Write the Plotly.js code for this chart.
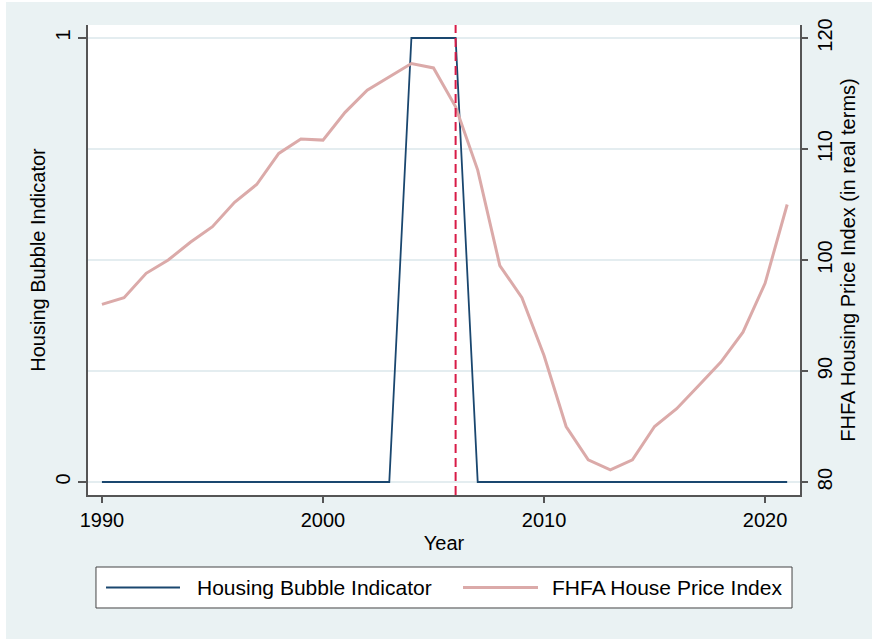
<!DOCTYPE html>
<html>
<head>
<meta charset="utf-8">
<script src="https://cdn.plot.ly/plotly-3.0.1.min.js"></script>
<style>
  html, body { margin: 0; padding: 0; background: #ffffff; }
  #chart { position: absolute; left: 6px; top: 2px; width: 866px; height: 637px; }
</style>
</head>
<body>
<div id="chart"></div>
<script>
// ---- Data ----
const years = [1990, 1991, 1992, 1993, 1994, 1995, 1996, 1997, 1998, 1999,
               2000, 2001, 2002, 2003, 2004, 2005, 2006, 2007, 2008, 2009,
               2010, 2011, 2012, 2013, 2014, 2015, 2016, 2017, 2018, 2019,
               2020, 2021];
const bubbleIndicator = [0, 0, 0, 0, 0, 0, 0, 0, 0, 0,
                         0, 0, 0, 0, 1, 1, 1, 0, 0, 0,
                         0, 0, 0, 0, 0, 0, 0, 0, 0, 0,
                         0, 0];
const fhfaHPI = [96.0, 96.6, 98.8, 100.0, 101.6, 103.0, 105.2, 106.8, 109.6, 110.9,
                 110.8, 113.3, 115.3, 116.5, 117.7, 117.3, 113.8, 108.1, 99.5, 96.6,
                 91.4, 85.0, 82.0, 81.1, 82.0, 85.0, 86.6, 88.7, 90.8, 93.5,
                 97.9, 105.0];
const eventYear = [2006];
const leftTicks = [0, 1];
const rightTicks = [80, 90, 100, 110, 120];
const xTicks = [1990, 2000, 2010, 2020];
const seriesNames = ['Housing Bubble Indicator', 'FHFA House Price Index'];
const seriesColors = ['#1a476f', '#dbaaa9'];
const seriesWidths = [1.8, 3];

const FONT = 'Liberation Sans, Arial, Helvetica, sans-serif';
const AXIS_COLOR = '#555555';

const traces = [
  {
    x: years, y: bubbleIndicator, type: 'scatter', mode: 'lines',
    name: seriesNames[0], yaxis: 'y',
    line: { color: seriesColors[0], width: seriesWidths[0] }
  },
  {
    x: years, y: fhfaHPI, type: 'scatter', mode: 'lines',
    name: seriesNames[1], yaxis: 'y2',
    line: { color: seriesColors[1], width: seriesWidths[1] }
  }
];

// ---- Stata-style legend box below the plot (paper coordinates) ----
const legBox = { x0: 0.0112, x1: 0.9888, y0: -0.2404, y1: -0.1532 };
const legMidY = (legBox.y0 + legBox.y1) / 2;
const legSamples = [[0.0253, 0.1292], [0.5267, 0.6320]];
const legTextX = [0.1503, 0.6489];

const shapes = [];
eventYear.forEach(function (yr) {
  shapes.push({
    type: 'line', xref: 'x', yref: 'paper',
    x0: yr, x1: yr, y0: 0, y1: 1,
    line: { color: '#d81b47', width: 2, dash: '9px,5px' },
    layer: 'above'
  });
});
shapes.push({
  type: 'rect', xref: 'paper', yref: 'paper',
  x0: legBox.x0, x1: legBox.x1, y0: legBox.y0, y1: legBox.y1,
  fillcolor: '#ffffff', line: { color: '#444444', width: 1 }
});
const annotations = [];
seriesNames.forEach(function (nm, i) {
  shapes.push({
    type: 'line', xref: 'paper', yref: 'paper',
    x0: legSamples[i][0], x1: legSamples[i][1], y0: legMidY, y1: legMidY,
    line: { color: seriesColors[i], width: seriesWidths[i] }
  });
  annotations.push({
    xref: 'paper', yref: 'paper', x: legTextX[i], y: legMidY,
    xanchor: 'left', yanchor: 'middle', showarrow: false,
    text: nm, font: { family: FONT, size: 21, color: '#000' }
  });
});

const layout = {
  width: 866, height: 637,
  margin: { l: 82, r: 72, t: 23, b: 144 },
  paper_bgcolor: '#eaf2f3',
  plot_bgcolor: '#ffffff',
  font: { family: FONT, size: 20, color: '#000000' },
  showlegend: false,
  xaxis: {
    range: [1989.37, 2021.58],
    tickvals: xTicks,
    ticks: 'outside', ticklen: 6, tickwidth: 1.5, tickcolor: AXIS_COLOR,
    showline: true, linecolor: AXIS_COLOR, linewidth: 2,
    showgrid: false, zeroline: false,
    tickfont: { family: FONT, size: 20, color: '#000' },
    title: { text: 'Year', font: { family: FONT, size: 20, color: '#000' }, standoff: 6 }
  },
  yaxis: {
    range: [-0.0293, 1.0293],
    tickvals: leftTicks,
    tickangle: -90,
    ticks: 'outside', ticklen: 8, tickwidth: 1.5, tickcolor: AXIS_COLOR,
    showline: true, linecolor: AXIS_COLOR, linewidth: 2,
    showgrid: false, zeroline: false,
    tickfont: { family: FONT, size: 20, color: '#000' },
    title: { text: 'Housing Bubble Indicator', font: { family: FONT, size: 20, color: '#000' }, standoff: 1 }
  },
  yaxis2: {
    overlaying: 'y', side: 'right',
    range: [78.83, 121.17],
    tickvals: rightTicks,
    tickangle: -90,
    ticks: 'outside', ticklen: 6, tickwidth: 1.5, tickcolor: AXIS_COLOR,
    showline: true, linecolor: AXIS_COLOR, linewidth: 2,
    showgrid: true, gridcolor: '#e4edf0', gridwidth: 1.5,
    zeroline: false,
    tickfont: { family: FONT, size: 20, color: '#000' },
    title: { text: 'FHFA Housing Price Index (in real terms)', font: { family: FONT, size: 20, color: '#000' }, standoff: 6 }
  },
  shapes: shapes,
  annotations: annotations
};

Plotly.newPlot('chart', traces, layout, { displayModeBar: false, staticPlot: true });
</script>
</body>
</html>
